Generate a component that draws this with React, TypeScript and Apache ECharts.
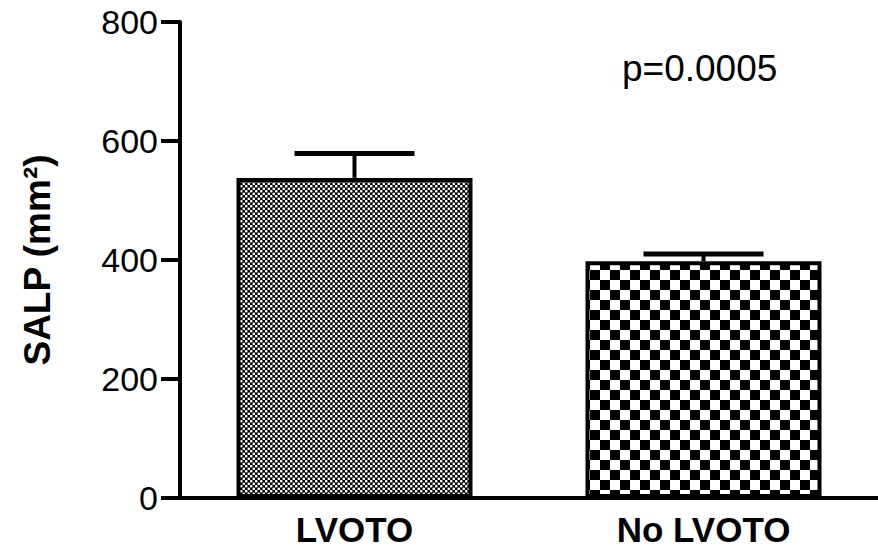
import React, { useEffect, useRef } from "react";
import * as echarts from "echarts";

const categories = ["LVOTO", "No LVOTO"];
const means = [538, 398];
const sems = [41, 12];
const yTicks = [0, 200, 400, 600, 800];
const yTitle = "SALP (mm²)";
const pLabel = "p=0.0005";

const FONT = "Liberation Sans, Arial, Helvetica, sans-serif";

function finePattern() {
  const c = document.createElement("canvas");
  c.width = 5;
  c.height = 5;
  const g = c.getContext("2d")!;
  g.fillStyle = "#000";
  g.fillRect(0, 0, 5, 5);
  g.fillStyle = "#fff";
  const dots = [
    [1.25, 1.25],
    [3.75, 3.75],
  ];
  dots.forEach(([x, y]) => {
    g.beginPath();
    g.arc(x, y, 1.35, 0, Math.PI * 2);
    g.fill();
  });
  return { image: c, repeat: "repeat", imageWidth: 5, imageHeight: 5 };
}

function coarsePattern() {
  const s = 10;
  const c = document.createElement("canvas");
  c.width = s * 2;
  c.height = s * 2;
  const g = c.getContext("2d")!;
  g.fillStyle = "#fff";
  g.fillRect(0, 0, s * 2, s * 2);
  g.fillStyle = "#000";
  g.fillRect(0, 0, s, s);
  g.fillRect(s, s, s, s);
  return { image: c, repeat: "repeat", imageWidth: s * 2, imageHeight: s * 2 };
}

export default function App() {
  const ref = useRef<HTMLDivElement>(null);
  useEffect(() => {
    if (!ref.current) return;
    const chart = echarts.init(ref.current, undefined, { renderer: "svg" });
    const patterns = [finePattern(), coarsePattern()];
    chart.setOption({
      animation: false,
      backgroundColor: "#fff",
      grid: { left: 180, right: -10, top: 22, bottom: 59, containLabel: false },
      xAxis: {
        type: "category",
        data: categories,
        axisLine: { lineStyle: { color: "#000", width: 4 } },
        axisTick: { alignWithLabel: true, length: 12, lineStyle: { color: "#000", width: 4 } },
        axisLabel: {
          color: "#000",
          fontSize: 35,
          fontWeight: "bold",
          fontFamily: FONT,
          margin: 14,
        },
      },
      yAxis: {
        type: "value",
        min: yTicks[0],
        max: yTicks[yTicks.length - 1],
        interval: 200,
        name: yTitle,
        nameLocation: "middle",
        nameGap: 124,
        nameTextStyle: {
          color: "#000",
          fontSize: 37,
          fontWeight: "bold",
          fontFamily: FONT,
        },
        splitLine: { show: false },
        axisLine: { show: true, lineStyle: { color: "#000", width: 4 } },
        axisTick: { show: true, length: 19, lineStyle: { color: "#000", width: 4 } },
        axisLabel: {
          color: "#000",
          fontSize: 34,
          fontFamily: FONT,
          margin: 22,
        },
      },
      graphic: [
        {
          type: "text",
          left: 622,
          top: 50,
          style: {
            text: pLabel,
            fill: "#000",
            fontSize: 37,
            fontFamily: FONT,
          },
        },
      ],
      series: [
        {
          type: "bar",
          barWidth: 236,
          data: means.map((v, i) => ({
            value: v,
            itemStyle: { color: patterns[i] },
          })),
          itemStyle: { borderColor: "#000", borderWidth: 4 },
          z: 2,
        },
        {
          type: "custom",
          z: 3,
          data: categories.map((_, i) => [i, means[i], means[i] + sems[i]]),
          renderItem: (params: any, api: any) => {
            const base = api.coord([api.value(0), api.value(1)]);
            const top = api.coord([api.value(0), api.value(2)]);
            const half = 60;
            const st = { stroke: "#000", lineWidth: 4 };
            return {
              type: "group",
              children: [
                { type: "line", shape: { x1: base[0], y1: base[1], x2: top[0], y2: top[1] }, style: st },
                { type: "line", shape: { x1: top[0] - half, y1: top[1], x2: top[0] + half, y2: top[1] }, style: { ...st, lineWidth: 5 } },
              ],
            };
          },
        },
      ],
    });
    return () => chart.dispose();
  }, []);
  return (
    <div
      ref={ref}
      style={{ position: "fixed", left: 0, top: 0, width: 878, height: 557 }}
    />
  );
}
